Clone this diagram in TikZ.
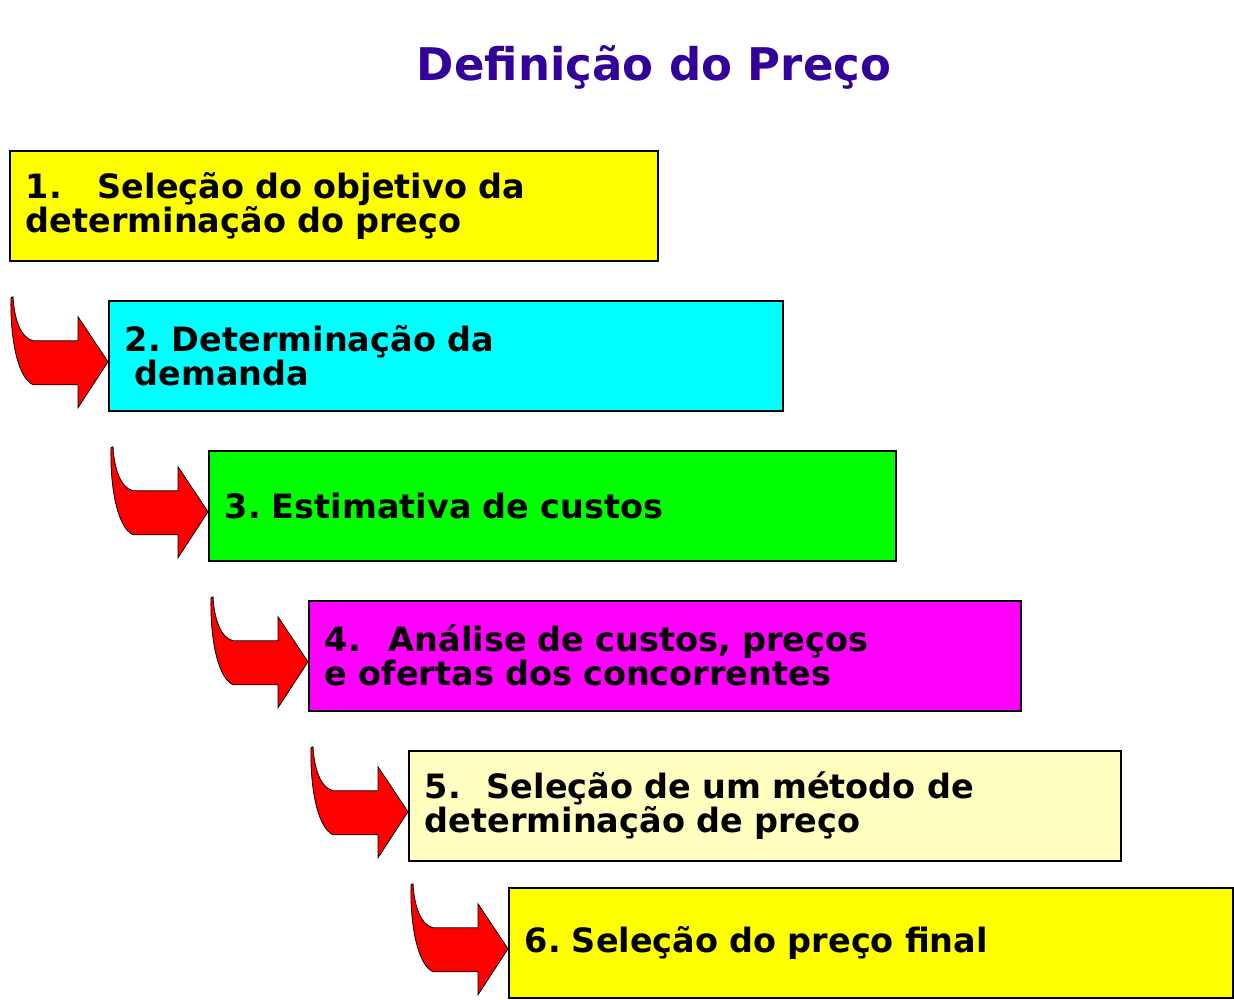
\documentclass[tikz,border=0pt]{standalone}
\usepackage{fontspec}
\setmainfont{DejaVu Sans}
\usetikzlibrary{calc,positioning}

\definecolor{titleblue}{RGB}{51,0,153}
\definecolor{boxyellow}{RGB}{255,255,0}
\definecolor{boxcyan}{RGB}{0,255,255}
\definecolor{boxgreen}{RGB}{0,255,0}
\definecolor{boxmagenta}{RGB}{255,0,255}
\definecolor{paleyellow}{RGB}{255,255,192}
\definecolor{arrowred}{RGB}{255,0,0}

\tikzset{
  stepbox/.style={draw=black, line width=1.5pt, anchor=north west,
    minimum height=110pt, inner xsep=16pt, text width=#1, align=left,
    font=\fontsize{33.5}{34}\selectfont\bfseries\frenchspacing},
  bendshape/.style={fill=arrowred, draw=black, line width=0.8pt},
}

% curved arrow pointing into a box
\newcommand{\bendarrow}[1]{%
  \begin{scope}[shift={($(#1.west)+(0,6)$)}]
    \draw[bendshape] (0,0) -- (-30,-45) -- (-30,-21) -- (-75,-21)
      .. controls (-88,-24) and (-94,-45) .. (-95,-65)
      -- (-97,-64)
      .. controls (-98,-30) and (-92,15) .. (-75,23)
      -- (-30,23) -- (-30,46) -- cycle;
  \end{scope}}

\begin{document}
\begin{tikzpicture}[x=1pt, y=-1pt]
  \useasboundingbox (0,0) rectangle (1234,999);

  % Title
  \node[anchor=base, text=titleblue, font=\fontsize{45}{50}\selectfont\bfseries]
    (title) at (654,80) {Definição do Preço};

  % Steps
  \node[stepbox=616pt, fill=boxyellow] (b1) at (9,150)
    {1.\hspace{36pt}Seleção do objetivo da\\determinação do preço};
  \node[stepbox=642pt, fill=boxcyan] (b2) at (108,300)
    {2. Determinação da\\\hspace{10pt}demanda};
  \node[stepbox=655pt, fill=boxgreen] (b3) at (208,450)
    {3. Estimativa de custos};
  \node[stepbox=680pt, fill=boxmagenta] (b4) at (308,600)
    {4.\hspace{28pt}Análise de custos, preços\\e ofertas dos concorrentes};
  \node[stepbox=680pt, fill=paleyellow] (b5) at (408,750)
    {5.\hspace{26pt}Seleção de um método de\\determinação de preço};
  \node[stepbox=692pt, fill=boxyellow] (b6) at (508,887)
    {6. Seleção do preço final};

  % Arrows
  \bendarrow{b2}
  \bendarrow{b3}
  \bendarrow{b4}
  \bendarrow{b5}
  \bendarrow{b6}
\end{tikzpicture}
\end{document}
